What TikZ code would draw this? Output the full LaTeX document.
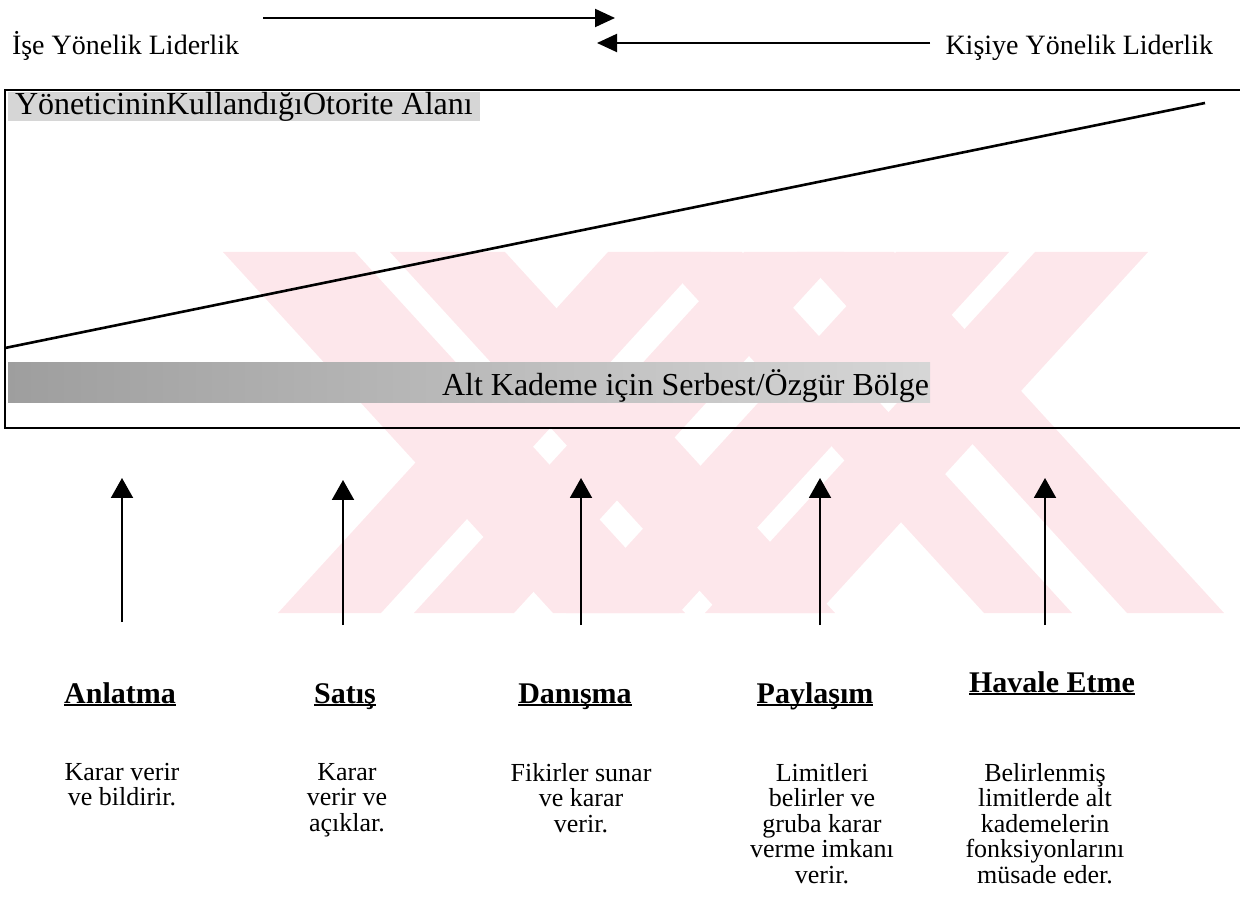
\documentclass[tikz,border=0pt]{standalone}
\usepackage{fontspec}
\setmainfont{Liberation Serif}
\usetikzlibrary{arrows.meta}
\definecolor{wmpink}{RGB}{253,231,235}
\begin{document}
\begin{tikzpicture}[x=0.5pt,y=-0.5pt,
  every node/.style={inner sep=0pt, outer sep=0pt},
  toplbl/.style={font=\fontsize{14}{14}\selectfont},
  arealbl/.style={font=\fontsize{16}{16}\selectfont},
  headlbl/.style={font=\fontsize{15}{15}\selectfont\bfseries, anchor=base},
  desclbl/.style={font=\fontsize{13}{12.75}\selectfont, align=center, anchor=north},
  uline/.style={line width=1.2pt},
  frame/.style={line width=1pt},
  slope/.style={line width=1.3pt},
  uparrow/.style={line width=1pt, -{Triangle[length=10pt,width=11pt]}},
  harrow/.style={line width=1pt, -{Triangle[length=10pt,width=9pt]}},
  wm/.style={fill=wmpink, draw=none},
]
\useasboundingbox (0,0) rectangle (1240,913);

% faint watermark (diagonal stripes)
\begin{scope}
  \clip (215,252) rectangle (1225,613);
  % stripes running down to the right (top x-range given)
  \foreach \l/\r in {223/355, 390/505, 654/742, 797/894}
    \fill[wm] (\l,252) -- (\r,252) -- ({\r+330},613) -- ({\l+330},613) -- cycle;
  % stripes running down to the left (top x-range given)
  \foreach \l/\r in {608/711, 744/844, 896/1009, 1035/1148}
    \fill[wm] (\l,252) -- (\r,252) -- ({\r-330},613) -- ({\l-330},613) -- cycle;
\end{scope}

% top labels and arrows
\node[toplbl, anchor=base west] (isl) at (12,55) {İşe Yönelik Liderlik};
\node[toplbl, anchor=base east] (kisl) at (1213,55) {Kişiye Yönelik Liderlik};
\coordinate (t1a) at (263,18); \coordinate (t1b) at (615,18);
\coordinate (t2a) at (930,43); \coordinate (t2b) at (597,43);
\draw[harrow] (t1a) -- (t1b);
\draw[harrow] (t2a) -- (t2b);

% bands
\fill[black!16] (8,92) rectangle (480,121);
\node[arealbl, anchor=base west] (auth) at (15,115) {YöneticininKullandığıOtorite Alanı};
\shade[left color=black!38, right color=black!16] (8,363) rectangle (930,403);
\node[arealbl, anchor=base east] (free) at (929,396) {Alt Kademe için Serbest/Özgür Bölge};

% frame
\coordinate (fTL) at (5,90); \coordinate (fBL) at (5,428);
\coordinate (fTR) at (1240,90); \coordinate (fBR) at (1240,428);
\draw[frame] (fTR) -- (fTL) -- (fBL) -- (fBR);

% slope
\coordinate (s0) at (5,348); \coordinate (s1) at (1205,103);
\draw[slope] (s0) -- (s1);

% vertical arrows
\coordinate (a1b) at (122,622); \coordinate (a1t) at (122,478);
\coordinate (a2b) at (343,625); \coordinate (a2t) at (343,480);
\coordinate (a3b) at (581,625); \coordinate (a3t) at (581,478);
\coordinate (a4b) at (820,625); \coordinate (a4t) at (820,478);
\coordinate (a5b) at (1045,625); \coordinate (a5t) at (1045,478);
\draw[uparrow] (a1b) -- (a1t);
\draw[uparrow] (a2b) -- (a2t);
\draw[uparrow] (a3b) -- (a3t);
\draw[uparrow] (a4b) -- (a4t);
\draw[uparrow] (a5b) -- (a5t);

% headings
\node[headlbl] (h1) at (120,703) {Anlatma};
\node[headlbl] (h2) at (345,703) {Satış};
\node[headlbl] (h3) at (575,703) {Danışma};
\node[headlbl] (h4) at (815,703) {Paylaşım};
\node[headlbl] (h5) at (1052,692) {Havale Etme};
\foreach \h in {h1,h2,h3,h4,h5}
  \draw[uline] ([yshift=-1pt]\h.base west) -- ([yshift=-1pt]\h.base east);

% descriptions
\node[desclbl] (d1) at (122,763) {Karar verir\\ve bildirir.};
\node[desclbl] (d2) at (347,763) {Karar\\verir ve\\açıklar.};
\node[desclbl] (d3) at (581,763) {Fikirler sunar\\ve karar\\verir.};
\node[desclbl] (d4) at (822,763) {Limitleri\\belirler ve\\gruba karar\\verme imkanı\\verir.};
\node[desclbl] (d5) at (1045,763) {Belirlenmiş\\limitlerde alt\\kademelerin\\fonksiyonlarını\\müsade eder.};
\end{tikzpicture}
\end{document}
